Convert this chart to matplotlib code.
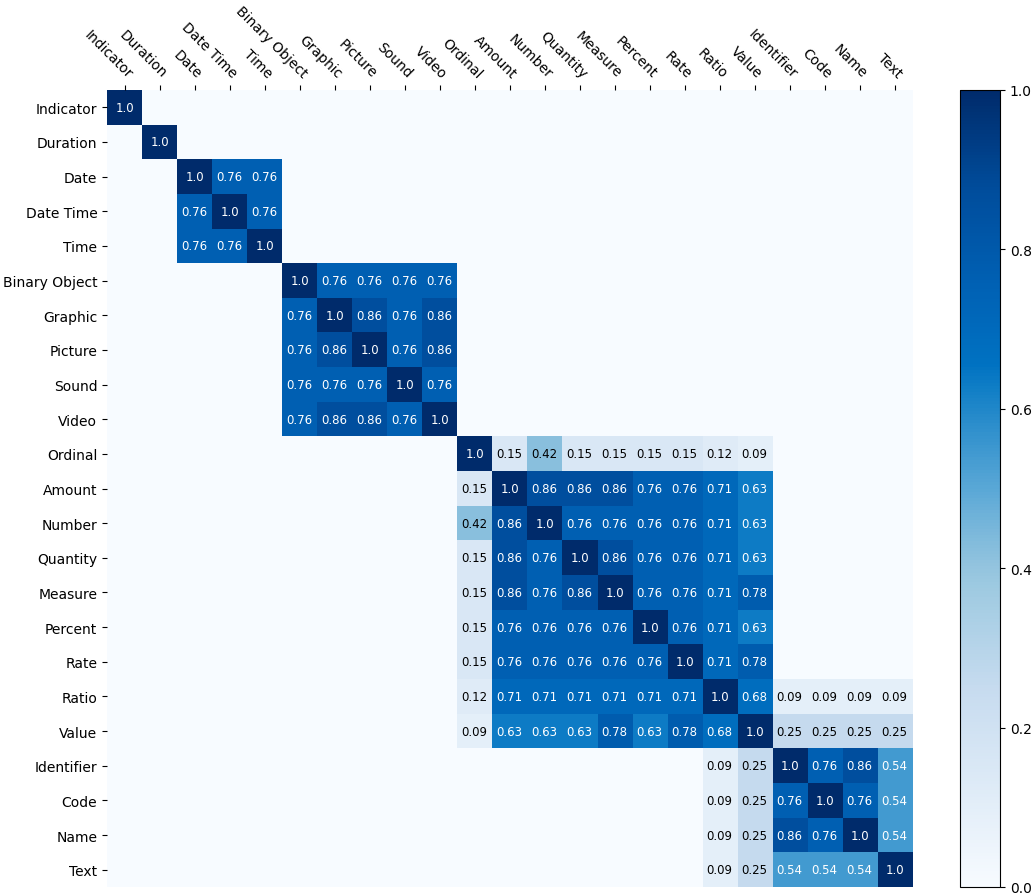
import numpy as np
import matplotlib.pyplot as plt
from matplotlib.colors import ListedColormap, rgb_to_hsv, hsv_to_rgb

labels = ["Indicator", "Duration", "Date", "Date Time", "Time", "Binary Object",
          "Graphic", "Picture", "Sound", "Video", "Ordinal", "Amount", "Number",
          "Quantity", "Measure", "Percent", "Rate", "Ratio", "Value", "Identifier",
          "Code", "Name", "Text"]

# similarity rows, 23 x 23 (0 = no link)
sim = [
    [1, 0, 0, 0, 0, 0, 0, 0, 0, 0, 0, 0, 0, 0, 0, 0, 0, 0, 0, 0, 0, 0, 0],
    [0, 1, 0, 0, 0, 0, 0, 0, 0, 0, 0, 0, 0, 0, 0, 0, 0, 0, 0, 0, 0, 0, 0],
    [0, 0, 1, .76, .76, 0, 0, 0, 0, 0, 0, 0, 0, 0, 0, 0, 0, 0, 0, 0, 0, 0, 0],
    [0, 0, .76, 1, .76, 0, 0, 0, 0, 0, 0, 0, 0, 0, 0, 0, 0, 0, 0, 0, 0, 0, 0],
    [0, 0, .76, .76, 1, 0, 0, 0, 0, 0, 0, 0, 0, 0, 0, 0, 0, 0, 0, 0, 0, 0, 0],
    [0, 0, 0, 0, 0, 1, .76, .76, .76, .76, 0, 0, 0, 0, 0, 0, 0, 0, 0, 0, 0, 0, 0],
    [0, 0, 0, 0, 0, .76, 1, .86, .76, .86, 0, 0, 0, 0, 0, 0, 0, 0, 0, 0, 0, 0, 0],
    [0, 0, 0, 0, 0, .76, .86, 1, .76, .86, 0, 0, 0, 0, 0, 0, 0, 0, 0, 0, 0, 0, 0],
    [0, 0, 0, 0, 0, .76, .76, .76, 1, .76, 0, 0, 0, 0, 0, 0, 0, 0, 0, 0, 0, 0, 0],
    [0, 0, 0, 0, 0, .76, .86, .86, .76, 1, 0, 0, 0, 0, 0, 0, 0, 0, 0, 0, 0, 0, 0],
    [0, 0, 0, 0, 0, 0, 0, 0, 0, 0, 1, .15, .42, .15, .15, .15, .15, .12, .09, 0, 0, 0, 0],
    [0, 0, 0, 0, 0, 0, 0, 0, 0, 0, .15, 1, .86, .86, .86, .76, .76, .71, .63, 0, 0, 0, 0],
    [0, 0, 0, 0, 0, 0, 0, 0, 0, 0, .42, .86, 1, .76, .76, .76, .76, .71, .63, 0, 0, 0, 0],
    [0, 0, 0, 0, 0, 0, 0, 0, 0, 0, .15, .86, .76, 1, .86, .76, .76, .71, .63, 0, 0, 0, 0],
    [0, 0, 0, 0, 0, 0, 0, 0, 0, 0, .15, .86, .76, .86, 1, .76, .76, .71, .78, 0, 0, 0, 0],
    [0, 0, 0, 0, 0, 0, 0, 0, 0, 0, .15, .76, .76, .76, .76, 1, .76, .71, .63, 0, 0, 0, 0],
    [0, 0, 0, 0, 0, 0, 0, 0, 0, 0, .15, .76, .76, .76, .76, .76, 1, .71, .78, 0, 0, 0, 0],
    [0, 0, 0, 0, 0, 0, 0, 0, 0, 0, .12, .71, .71, .71, .71, .71, .71, 1, .68, .09, .09, .09, .09],
    [0, 0, 0, 0, 0, 0, 0, 0, 0, 0, .09, .63, .63, .63, .78, .63, .78, .68, 1, .25, .25, .25, .25],
    [0, 0, 0, 0, 0, 0, 0, 0, 0, 0, 0, 0, 0, 0, 0, 0, 0, .09, .25, 1, .76, .86, .54],
    [0, 0, 0, 0, 0, 0, 0, 0, 0, 0, 0, 0, 0, 0, 0, 0, 0, .09, .25, .76, 1, .76, .54],
    [0, 0, 0, 0, 0, 0, 0, 0, 0, 0, 0, 0, 0, 0, 0, 0, 0, .09, .25, .86, .76, 1, .54],
    [0, 0, 0, 0, 0, 0, 0, 0, 0, 0, 0, 0, 0, 0, 0, 0, 0, .09, .25, .54, .54, .54, 1],
]
mat = np.array(sim, dtype=float)
n = len(labels)

# Blues, with the upper half more saturated like the reference
pos = np.linspace(0, 1, 256)
base = plt.get_cmap("Blues")(pos)[:, :3]
hsv = rgb_to_hsv(base)
boost = 1 + 0.5 * np.clip((pos - 0.4) / 0.3, 0, 1)
hsv[:, 1] = np.clip(hsv[:, 1] * boost, 0, 1)
cmap = ListedColormap(hsv_to_rgb(hsv))

fig = plt.figure(figsize=(10.33, 8.95), dpi=100)
ax = fig.add_axes([107 / 1033, 7 / 895, 805 / 1033, 797 / 895])
cax = fig.add_axes([960 / 1033, 7 / 895, 40 / 1033, 797 / 895])

im = ax.imshow(mat, cmap=cmap, vmin=0, vmax=1, aspect="auto")

for i in range(n):
    for j in range(n):
        v = mat[i, j]
        if v == 0:
            continue
        txt = "1.0" if v == 1 else f"{v:.2f}"
        ax.text(j, i, txt, ha="center", va="center", fontsize=8.5,
                color="white" if v > 0.5 else "black")

ax.xaxis.tick_top()
ax.set_xticks(np.arange(n))
ax.set_yticks(np.arange(n))
ax.set_xticklabels(labels, rotation=-45, ha="right", rotation_mode="anchor", fontsize=10)
ax.set_yticklabels(labels, fontsize=10)
for s in ax.spines.values():
    s.set_visible(False)

cb = fig.colorbar(im, cax=cax)
cb.set_ticks([0, 0.2, 0.4, 0.6, 0.8, 1.0])
cb.ax.tick_params(labelsize=10)

fig.savefig("out.png", dpi=100)
